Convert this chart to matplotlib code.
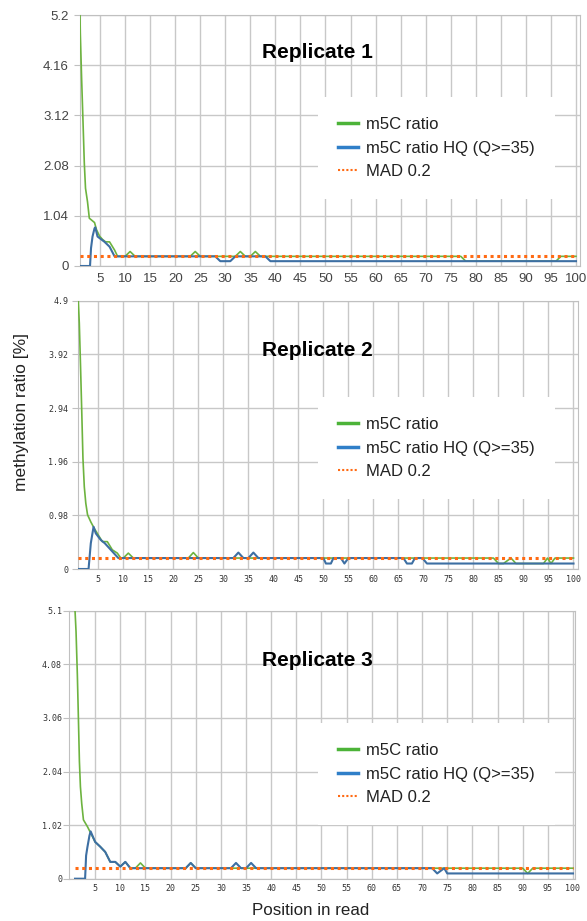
import matplotlib.pyplot as plt
from matplotlib.lines import Line2D

plt.rcParams['font.family'] = ['Liberation Sans', 'DejaVu Sans']

# Данные: вершины линий (позиция в риде, значение)
titles = ['Replicate 1', 'Replicate 2', 'Replicate 3']
y_tops = [5.2, 4.9, 5.1]
y_ticks = [
    [0, 1.04, 2.08, 3.12, 4.16, 5.2],
    [0, 0.98, 1.96, 2.94, 3.92, 4.9],
    [0, 1.02, 2.04, 3.06, 4.08, 5.1],
]
y_ticklabels = [
    ['0', '1.04', '2.08', '3.12', '4.16', '5.2'],
    ['0', '0.98', '1.96', '2.94', '3.92', '4.9'],
    ['0', '1.02', '2.04', '3.06', '4.08', '5.1'],
]
x_ticks = list(range(5, 101, 5))

# Replicate 1
green1_x = [1, 1.06, 1.32, 1.6, 1.86, 2.1, 2.5, 2.86, 3.9, 4.3, 4.9, 5.5, 6.1, 6.9, 7.9, 8.5,
            10, 11, 12, 23, 24, 25, 32, 33, 34, 35, 36, 37, 77, 78, 96, 97, 100]
green1_y = [5.2, 4.82, 3.89, 2.99, 2.13, 1.61, 1.33, 0.99, 0.9, 0.75, 0.62, 0.55, 0.5, 0.5, 0.33, 0.2,
            0.2, 0.3, 0.2, 0.2, 0.3, 0.2, 0.2, 0.3, 0.2, 0.2, 0.3, 0.2, 0.2, 0.1, 0.1, 0.2, 0.2]
blue1_x = [1, 3, 3.2, 3.5, 3.9, 4.05, 4.5, 5.9, 6.9, 7.9, 28, 29, 31, 32, 38, 39, 100]
blue1_y = [0, 0, 0.37, 0.61, 0.78, 0.8, 0.61, 0.5, 0.4, 0.2, 0.2, 0.1, 0.1, 0.2, 0.2, 0.1, 0.1]

# Replicate 2
green2_x = [1, 1.2, 1.46, 1.7, 1.93, 2.2, 2.5, 2.85, 3.5, 4.2, 4.8, 5.8, 6.8, 7.8, 8.8, 9.5,
            10, 11, 12, 23, 24, 25, 84, 85, 86, 87.5, 88.5, 94, 94.8, 95.5, 96.3, 100]
green2_y = [4.9, 4.49, 3.66, 2.84, 2.02, 1.5, 1.2, 0.99, 0.86, 0.74, 0.65, 0.5, 0.5, 0.35, 0.29, 0.2,
            0.2, 0.29, 0.2, 0.2, 0.3, 0.2, 0.2, 0.1, 0.1, 0.2, 0.1, 0.1, 0.2, 0.1, 0.2, 0.2]
blue2_x = [1, 3.05, 3.5, 4.05, 4.5, 5.5, 6.3, 7.8, 9.0, 32, 33, 34, 35, 36, 37,
           50, 50.5, 51.5, 52, 53.5, 54.2, 55, 66, 66.7, 67.7, 68.3, 69.8, 70.7, 100]
blue2_y = [0, 0, 0.47, 0.77, 0.65, 0.53, 0.47, 0.32, 0.2, 0.2, 0.3, 0.2, 0.2, 0.3, 0.2,
           0.2, 0.1, 0.1, 0.2, 0.2, 0.1, 0.2, 0.2, 0.1, 0.1, 0.2, 0.2, 0.1, 0.1]

# Replicate 3
green3_x = [1, 1.2, 1.46, 1.67, 1.87, 2.07, 2.33, 2.67, 3.47, 4.0, 5, 6, 7, 8, 9, 10, 11, 12,
            13, 14, 15, 23, 24, 25, 90, 91, 92, 100]
green3_y = [5.1, 4.7, 3.88, 3.05, 2.23, 1.75, 1.43, 1.12, 0.99, 0.89, 0.7, 0.61, 0.51, 0.32, 0.32,
            0.23, 0.32, 0.2, 0.2, 0.3, 0.2, 0.2, 0.3, 0.2, 0.2, 0.1, 0.2, 0.2]
blue3_x = [1, 3, 3.2, 3.46, 3.87, 4.1, 5, 6, 7, 8, 9, 10, 11, 12, 23, 24, 25,
           32, 33, 34, 35, 36, 37, 72, 73, 74.4, 75, 100]
blue3_y = [0, 0, 0.44, 0.6, 0.82, 0.9, 0.7, 0.61, 0.51, 0.32, 0.32, 0.23, 0.32, 0.2, 0.2, 0.3, 0.2,
           0.2, 0.3, 0.2, 0.2, 0.3, 0.2, 0.2, 0.1, 0.2, 0.1, 0.1]

mad_x = [1, 100]
mad_y = [0.2, 0.2]

greens = [(green1_x, green1_y), (green2_x, green2_y), (green3_x, green3_y)]
blues = [(blue1_x, blue1_y), (blue2_x, blue2_y), (blue3_x, blue3_y)]

# Расположение панелей (в пикселях исходной картинки)
W, H = 587, 921
boxes = [(80, 15, 580, 266), (78, 300.7, 578, 569), (69, 610.7, 575, 878.7)]
xlims = [(1, 100.8), (0.94, 100.9), (-0.2, 100.4)]
title_y = [53, 351, 661]
legend_top = [89, 389, 715]

C_GREEN = '#6db33f'
C_BLUE = '#3d6fa3'
C_ORANGE = '#ff6a13'

fig = plt.figure(figsize=(W / 100, H / 100), dpi=100)

for i in range(3):
    l, t, r, b = boxes[i]
    ax = fig.add_axes([l / W, 1 - b / H, (r - l) / W, (b - t) / H])
    gx, gy = greens[i]
    bx, by = blues[i]
    ax.plot(gx, gy, color=C_GREEN, lw=1.2, zorder=3)
    ax.plot(bx, by, color=C_BLUE, lw=1.5, zorder=4)
    ax.plot(mad_x, mad_y, color=C_ORANGE, lw=2.2, dashes=(1, 1.2), zorder=5)

    ax.set_xlim(*xlims[i])
    ax.set_ylim(0, y_tops[i])
    ax.set_xticks(x_ticks)
    ax.set_yticks(y_ticks[i])
    ax.set_yticklabels(y_ticklabels[i])
    ax.grid(True, color='#c8c8c8', lw=1)
    ax.set_axisbelow(True)
    for s in ax.spines.values():
        s.set_color('#c0c0c0')

    if i == 0:
        ax.tick_params(axis='both', labelsize=9.5, labelcolor='#444444', colors='#c0c0c0')
        ax.tick_params(axis='y', length=4, pad=4)
        ax.tick_params(axis='x', length=0, pad=5)
    else:
        for lab in ax.get_xticklabels() + ax.get_yticklabels():
            lab.set_family('DejaVu Sans Mono')
        ax.tick_params(axis='both', labelsize=6, labelcolor='#333333', colors='#c0c0c0')
        ax.tick_params(axis='y', length=4, pad=3 if i == 1 else 1)
        ax.tick_params(axis='x', length=0, pad=4)

    fig.text(317 / W, 1 - title_y[i] / H, titles[i], ha='center', va='center',
             fontsize=15, fontweight='bold', color='black')

    handles = [
        Line2D([], [], color='#4cb338', lw=2.5),
        Line2D([], [], color='#2f7fc8', lw=2.5),
        Line2D([], [], color=C_ORANGE, lw=1.5, dashes=(1, 1)),
    ]
    labels = ['m5C ratio', 'm5C ratio HQ (Q>=35)', 'MAD 0.2']
    leg = ax.legend(handles, labels, loc='upper left',
                    bbox_to_anchor=(310 / W, 1 - legend_top[i] / H),
                    bbox_transform=fig.transFigure, fontsize=12,
                    frameon=True, facecolor='white', edgecolor='none', framealpha=1,
                    handlelength=1.2, handletextpad=0.45, labelspacing=0.5,
                    borderpad=1.2, fancybox=False)
    for txt in leg.get_texts():
        txt.set_color('#222222')
    leg.set_zorder(6)

fig.text(22 / W, 1 - 412 / H, 'methylation ratio [%]', rotation=90, ha='center', va='center',
         fontsize=12.5, color='#222222')
fig.text(311 / W, 1 - 910 / H, 'Position in read', ha='center', va='center',
         fontsize=12.2, color='#222222')

fig.savefig('out.png', dpi=100)
